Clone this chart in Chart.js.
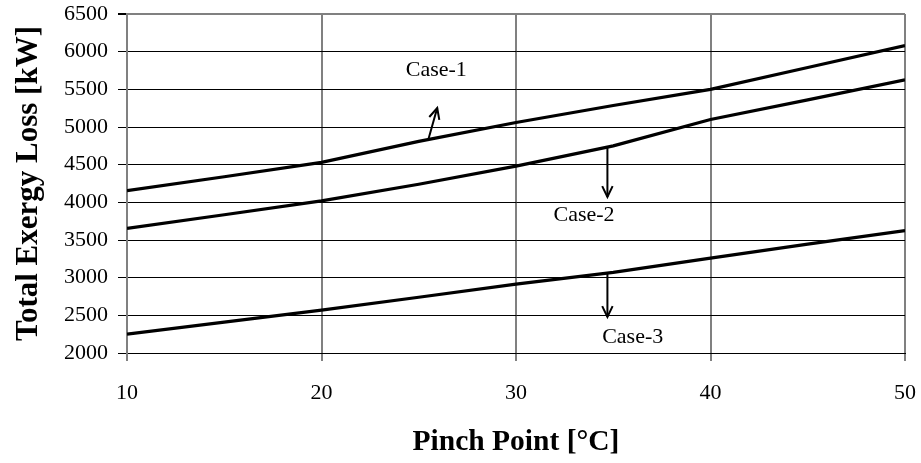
<!DOCTYPE html>
<html>
<head>
<meta charset="utf-8">
<script src="https://cdn.jsdelivr.net/npm/chart.js@4.4.1/dist/chart.umd.min.js"></script>
<style>
  html, body { margin: 0; padding: 0; background: #ffffff; }
  #wrap { width: 921px; height: 463px; }
</style>
</head>
<body>
<div id="wrap"><canvas id="c" width="921" height="463"></canvas></div>
<script>
// ---- data ----
const pinchPoints = [10, 15, 20, 25, 30, 35, 40, 45, 50];
const case1 = [4155, 4340, 4530, 4810, 5060, 5285, 5500, 5790, 6080];
const case2 = [3655, 3835, 4020, 4240, 4480, 4750, 5100, 5360, 5625];
const case3 = [2250, 2410, 2570, 2740, 2915, 3070, 3260, 3445, 3625];
const seriesNames = ['Case-1', 'Case-2', 'Case-3'];

const yTicks = [2000, 2500, 3000, 3500, 4000, 4500, 5000, 5500, 6000, 6500];
const xTicks = [10, 20, 30, 40, 50];

// annotation anchors (data units)
const noteText = ['Case-1', 'Case-2', 'Case-3'];
const noteX = [25.9, 33.5, 36.0];
const noteY = [5757, 3832, 2212];
const arrowFromX = [25.5, 34.7, 34.7];
const arrowFromY = [4840, 4735, 3062];
const arrowToX = [25.95, 34.7, 34.7];
const arrowToY = [5252, 4071, 2478];

const FONT = '"Liberation Serif", "Times New Roman", serif';

const toPoints = arr => pinchPoints.map((p, i) => ({ x: p, y: arr[i] }));

const notesPlugin = {
  id: 'caseNotes',
  afterDatasetsDraw(chart) {
    const { ctx } = chart;
    const xs = chart.scales.x, ys = chart.scales.y;
    ctx.save();
    ctx.strokeStyle = '#000';
    ctx.lineWidth = 2;
    ctx.lineCap = 'butt';
    for (let i = 0; i < arrowFromX.length; i++) {
      const x0 = xs.getPixelForValue(arrowFromX[i]);
      const y0 = ys.getPixelForValue(arrowFromY[i]);
      const x1 = xs.getPixelForValue(arrowToX[i]);
      const y1 = ys.getPixelForValue(arrowToY[i]);
      ctx.beginPath();
      ctx.moveTo(x0, y0);
      ctx.lineTo(x1, y1);
      ctx.stroke();
      const ang = Math.atan2(y1 - y0, x1 - x0);
      const L = 12, a = Math.PI / 7;
      ctx.beginPath();
      ctx.moveTo(x1 - L * Math.cos(ang - a), y1 - L * Math.sin(ang - a));
      ctx.lineTo(x1, y1);
      ctx.lineTo(x1 - L * Math.cos(ang + a), y1 - L * Math.sin(ang + a));
      ctx.stroke();
    }
    ctx.fillStyle = '#000';
    ctx.font = '22px ' + FONT;
    ctx.textAlign = 'center';
    ctx.textBaseline = 'middle';
    for (let i = 0; i < noteText.length; i++) {
      ctx.fillText(noteText[i], xs.getPixelForValue(noteX[i]), ys.getPixelForValue(noteY[i]));
    }
    ctx.restore();
  }
};

const mkDs = (label, arr) => ({
  label,
  data: toPoints(arr),
  borderColor: '#000',
  backgroundColor: '#000',
  borderWidth: 3.2,
  pointRadius: 0,
  tension: 0,
  fill: false
});

new Chart(document.getElementById('c'), {
  type: 'line',
  data: {
    datasets: [
      mkDs(seriesNames[0], case1),
      mkDs(seriesNames[1], case2),
      mkDs(seriesNames[2], case3)
    ]
  },
  options: {
    responsive: false,
    animation: false,
    layout: { padding: { top: 14, right: 16, bottom: 0, left: 0 } },
    plugins: { legend: { display: false }, tooltip: { enabled: false } },
    scales: {
      x: {
        type: 'linear',
        min: xTicks[0],
        max: xTicks[xTicks.length - 1],
        afterBuildTicks: s => { s.ticks = xTicks.map(v => ({ value: v })); },
        afterFit: s => { s.height = 110; s.paddingLeft = 0; s.paddingRight = 0; },
        ticks: { color: '#000', font: { family: FONT, size: 22 }, padding: 19, maxRotation: 0,
                 callback: v => String(v) },
        grid: { color: '#808080', lineWidth: 2, tickLength: 8, tickColor: '#808080' },
        border: { color: '#000', width: 1 },
        title: {
          display: true,
          text: 'Pinch Point [°C]',
          color: '#000',
          font: { family: FONT, size: 29.5, weight: 'bold' },
          padding: { top: 3, bottom: 3 }
        }
      },
      y: {
        min: yTicks[0],
        max: yTicks[yTicks.length - 1],
        afterBuildTicks: s => { s.ticks = yTicks.map(v => ({ value: v })); },
        afterFit: s => { s.width = 127; s.paddingTop = 0; s.paddingBottom = 0; },
        ticks: { color: '#000', font: { family: FONT, size: 22 }, padding: 10,
                 callback: v => String(v) },
        grid: {
          color: c => (c.tick && c.tick.value === 6500) ? '#808080' : '#000',
          lineWidth: c => (c.tick && c.tick.value === 6500) ? 2 : 1,
          tickLength: 9,
          tickColor: '#000'
        },
        border: { color: '#808080', width: 2 },
        title: {
          display: true,
          text: 'Total Exergy Loss [kW]',
          color: '#000',
          font: { family: FONT, size: 31, weight: 'bold' },
          padding: { top: 10, bottom: 4 }
        }
      }
    }
  },
  plugins: [notesPlugin]
});
</script>
</body>
</html>
